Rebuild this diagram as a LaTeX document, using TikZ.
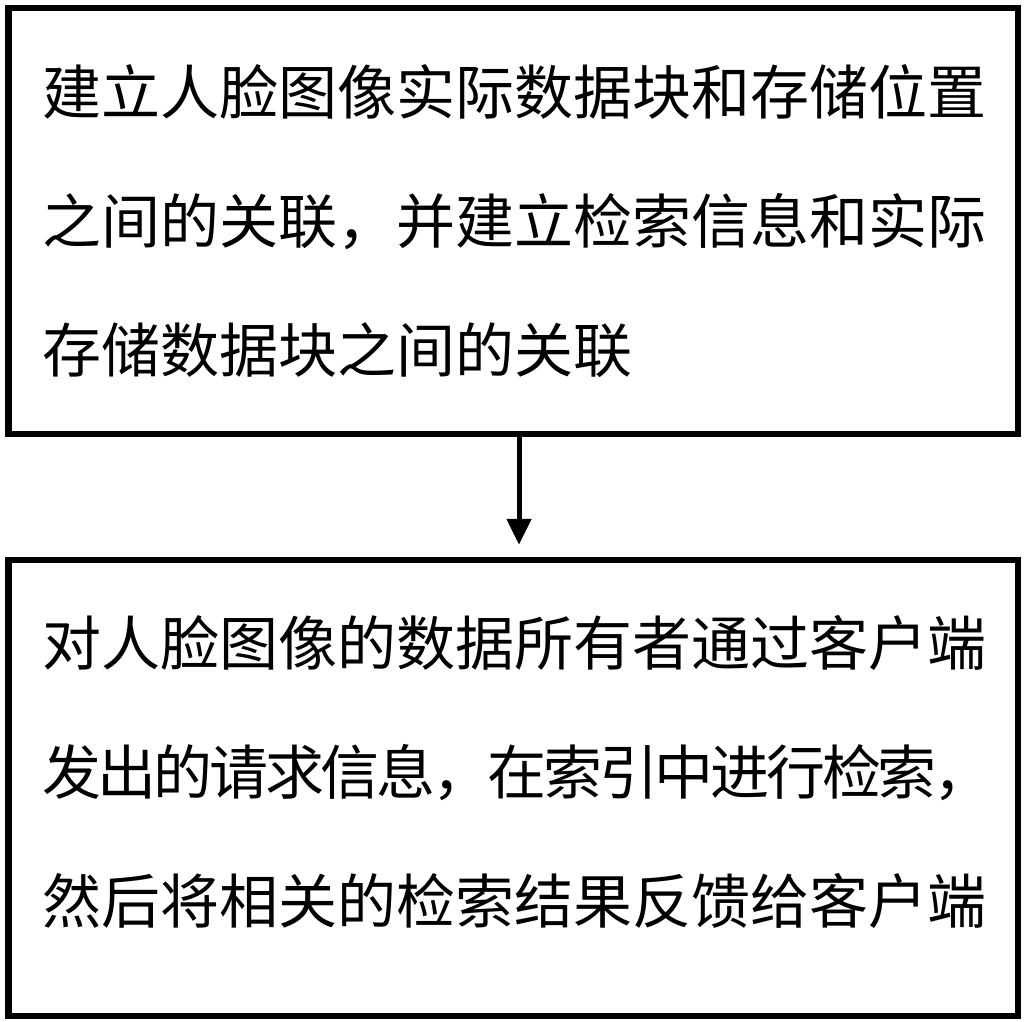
\documentclass[tikz,border=0pt]{standalone}
\usepackage{fontspec}
\newfontfamily\cjk{Noto Sans CJK SC}
\usetikzlibrary{arrows.meta}
\begin{document}
\begin{tikzpicture}[x=1pt,y=1pt,
  box/.style={draw=black, line width=6.5pt, rectangle, inner sep=0pt},
  txt/.style={font=\cjk\fontsize{59}{129}\selectfont, align=left, inner sep=0pt, anchor=west},
  flow/.style={line width=5pt, -{Triangle[length=26pt,width=24pt]}}]
\useasboundingbox (0,0) rectangle (1024,1021);
\node[box, minimum width=1009.5pt, minimum height=426pt] (b1) at (513.25,800) {};
\node[box, minimum width=1009.5pt, minimum height=456pt] (b2) at (513.25,233) {};
\node[txt] (t1) at (42,800) {建立人脸图像实际数据块和存储位置\\之间的关联，并建立检索信息和实际\\存储数据块之间的关联};
\node[txt] (t2) at (42,249) {对人脸图像的数据所有者通过客户端\\{\addfontfeature{LetterSpace=-5.6}发出的请求信息，在索引中进行检索，}\\然后将相关的检索结果反馈给客户端};
\coordinate (x0) at (519,0);
\coordinate (a1) at (x0 |- b1.south);
\coordinate (a2) at (x0 |- b2.north);
\draw[flow, shorten >=12pt] ([yshift=3pt]a1) -- (a2);
\end{tikzpicture}
\end{document}
